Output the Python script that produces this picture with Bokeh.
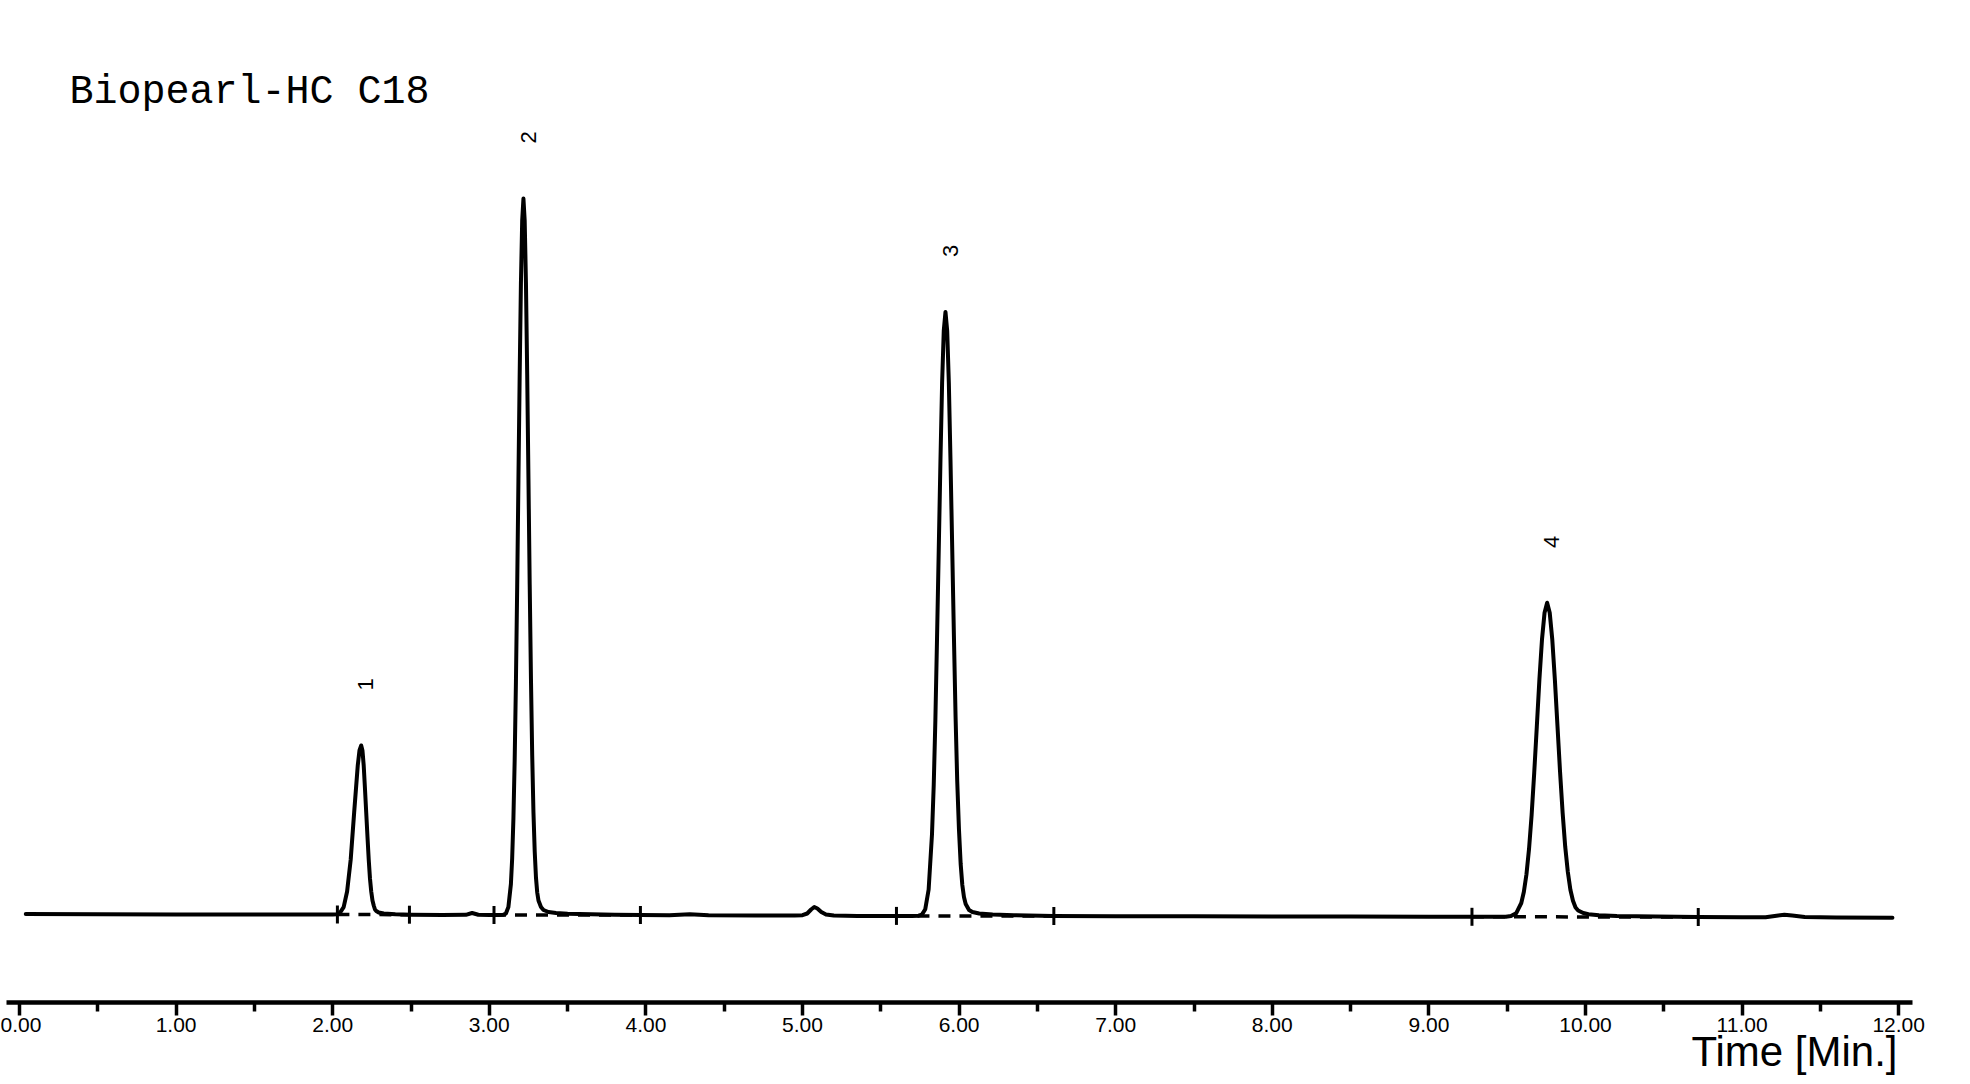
import math
from bokeh.plotting import figure
from bokeh.models import Range1d, FixedTicker, PrintfTickFormatter, Label, ColumnDataSource
from bokeh.embed import file_html
from bokeh.resources import INLINE
from bokeh.core.properties import value

# ---------------- data ----------------
title_text = "Biopearl-HC C18"
axis_title = "Time [Min.]"
tick_values = [0, 1, 2, 3, 4, 5, 6, 7, 8, 9, 10, 11, 12]
minor_tick_values = [0.5, 1.5, 2.5, 3.5, 4.5, 5.5, 6.5, 7.5, 8.5, 9.5, 10.5, 11.5]

# chromatogram trace, time [min] and signal (arbitrary units)
lead_t = [0.04, 0.5, 1.0, 1.5, 1.9, 2.0]
lead_y = [2.5, 2.3, 2.1, 2.0, 2.0, 2.0]

peak1_t = [2.025, 2.047, 2.070, 2.092, 2.115, 2.137, 2.160, 2.171, 2.182, 2.190, 2.198, 2.206,
           2.214, 2.222, 2.230, 2.238, 2.246, 2.254, 2.262, 2.270, 2.278, 2.294, 2.326, 2.40, 2.5]
peak1_y = [2.3, 3.9, 9.4, 25, 57, 104, 151, 166, 171, 166, 151, 128,
           104, 80, 57, 38, 25, 16, 11, 7, 5.5, 4, 3, 2.2, 1.8]

gap1_t = [2.7, 2.85, 2.89, 2.93, 3.0, 3.06]
gap1_y = [1.6, 1.7, 3.5, 1.8, 1.5, 1.5]

peak2_t = [3.090, 3.106, 3.122, 3.138, 3.146, 3.154, 3.162, 3.170, 3.178, 3.186, 3.194, 3.202,
           3.210, 3.218, 3.226, 3.234, 3.242, 3.250, 3.258, 3.266, 3.274, 3.282, 3.290, 3.298,
           3.306, 3.314, 3.330, 3.346, 3.378, 3.426, 3.50, 3.65, 3.80, 3.97]
peak2_y = [1.7, 3.1, 9.5, 32.5, 58, 98, 156, 234, 329, 436, 542, 634,
           696, 718, 696, 634, 542, 438, 332, 238, 161, 104, 65, 39,
           24, 16, 9.5, 6.5, 4.5, 3.5, 2.8, 2.2, 1.8, 1.5]

gap2_t = [4.15, 4.28, 4.40, 4.70, 4.95, 5.00, 5.03, 5.055, 5.075, 5.095, 5.12, 5.15, 5.20, 5.35,
          5.55, 5.70]
gap2_y = [1.3, 2.2, 1.2, 1.0, 1.0, 1.3, 3.0, 7.0, 9.5, 8.0, 4.5, 2.0, 0.9, 0.6,
          0.6, 0.6]

peak3_t = [5.741, 5.7625, 5.784, 5.8055, 5.827, 5.838, 5.8485, 5.859, 5.870, 5.881, 5.8915, 5.902,
           5.913, 5.924, 5.9345, 5.945, 5.956, 5.967, 5.9775, 5.988, 5.999, 6.010, 6.0205, 6.031,
           6.042, 6.0635, 6.085, 6.128, 6.214, 6.35, 6.60]
peak3_y = [0.8, 1.9, 7.3, 27, 82.5, 131.5, 196.5, 277.5, 366.5, 456.5, 533.5, 585.5,
           604.5, 585.5, 533.5, 456.5, 368.5, 279.5, 199.5, 135.5, 87.5, 52.5, 31.5, 19.5,
           12.5, 6.5, 4.5, 3.0, 2.0, 1.2, 0.5]

gap3_t = [7.0, 7.5, 8.0, 8.5, 9.0, 9.3]
gap3_y = [0.3, 0.2, 0.0, 0.0, -0.2, -0.3]

peak4_t = [9.491, 9.524, 9.557, 9.590, 9.6065, 9.623, 9.6395, 9.656, 9.6725, 9.689, 9.7055, 9.722,
           9.7385, 9.755, 9.7715, 9.788, 9.8045, 9.821, 9.8375, 9.854, 9.8705, 9.887, 9.9035,
           9.920, 9.9365, 9.953, 9.986, 10.019, 10.085, 10.2, 10.45, 10.72]
peak4_y = [-0.2, 0.4, 3.2, 13.5, 24.7, 42.2, 67.7, 101.7, 143.7, 189.7, 236.7, 276.7,
           303.7, 313.7, 303.7, 276.7, 236.7, 190.7, 144.7, 103.7, 69.7, 44.7, 26.7,
           15.7, 9.0, 6.0, 3.5, 2.3, 1.2, 0.4, 0.0, -0.5]

tail_t = [11.0, 11.15, 11.22, 11.27, 11.32, 11.40, 11.6, 11.96]
tail_y = [-0.7, -0.7, 0.8, 1.8, 1.0, -0.5, -1.0, -1.2]

# integration baselines (dashed) for the four peaks
base_start_t = [2.03, 3.03, 5.60, 9.275]
base_end_t = [2.49, 3.965, 6.605, 10.72]
base_start_y = [2.0, 1.5, 0.6, -0.3]
base_end_y = [1.8, 1.5, 0.5, -0.5]

# peak numbers and apexes
peak_labels = ["1", "2", "3", "4"]
peak_apex_t = [2.182, 3.218, 5.913, 9.755]
peak_apex_y = [171, 718, 604.5, 313.7]

# ---------------- figure ----------------
PX_PER_MIN = 156.6
X0_PX = 19.0          # canvas x of t = 0
W, H = 1954, 1076
BASE_PX = 916.0       # canvas y of signal 0
AXIS_PX = 1002.0      # canvas y of time axis

p = figure(width=W, height=H, output_backend="svg", toolbar_location=None, title=None,
           x_range=Range1d(-X0_PX / PX_PER_MIN, (W - X0_PX) / PX_PER_MIN),
           y_range=Range1d(-(H - BASE_PX), BASE_PX),
           y_axis_location=None, min_border=0,
           min_border_left=0, min_border_right=0, min_border_top=0, min_border_bottom=0)
p.outline_line_color = None
p.grid.visible = False
p.background_fill_color = "white"
p.border_fill_color = "white"

ax = p.xaxis[0]
ax.fixed_location = -(AXIS_PX - BASE_PX)
ax.ticker = FixedTicker(ticks=tick_values, minor_ticks=minor_tick_values)
ax.formatter = PrintfTickFormatter(format="%.2f")
ax.bounds = (-0.083, 12.09)
ax.axis_line_width = 4.5
ax.axis_line_color = "black"
ax.major_tick_line_width = 3.5
ax.minor_tick_line_width = 3.5
ax.major_tick_line_color = "black"
ax.minor_tick_line_color = "black"
ax.major_tick_out = 13
ax.major_tick_in = 0
ax.minor_tick_out = 9
ax.minor_tick_in = 0
ax.major_label_text_font = "Liberation Sans"
ax.major_label_text_font_size = "21px"
ax.major_label_text_color = "black"
ax.major_label_standoff = 2

trace_t = lead_t + peak1_t + gap1_t + peak2_t + gap2_t + peak3_t + gap3_t + peak4_t + tail_t
trace_y = lead_y + peak1_y + gap1_y + peak2_y + gap2_y + peak3_y + gap3_y + peak4_y + tail_y

# dashed integration baselines
p.segment(x0=base_start_t, y0=base_start_y, x1=base_end_t, y1=base_end_y,
          line_color="black", line_width=3.5, line_dash="12 9")

# trace
p.line(trace_t, trace_y, line_color="black", line_width=4, line_join="round", line_cap="round")

# integration markers
mark_t = base_start_t + base_end_t
mark_y = base_start_y + base_end_y
p.segment(x0=mark_t, y0=[v - 9 for v in mark_y], x1=mark_t, y1=[v + 9 for v in mark_y],
          line_color="black", line_width=3)

# peak numbers (rotated)
lab_src = ColumnDataSource(dict(x=[t + 0.03 for t in peak_apex_t],
                                y=[v + 61 for v in peak_apex_y],
                                text=peak_labels))
p.text(x="x", y="y", text="text", source=lab_src, angle=math.pi / 2,
       text_font=value("Liberation Sans"), text_font_size="22px",
       text_align="center", text_baseline="middle", text_color="black")

# title
p.add_layout(Label(x=(69 - X0_PX) / PX_PER_MIN, y=BASE_PX - 92, text=title_text,
                   text_font="Liberation Mono", text_font_size="40px", text_color="black",
                   text_align="left", text_baseline="alphabetic"))

# axis title
p.add_layout(Label(x=(1897 - X0_PX) / PX_PER_MIN, y=BASE_PX - 1051, text=axis_title,
                   text_font="Liberation Sans", text_font_size="42px", text_color="black",
                   text_align="right", text_baseline="middle"))

open("out.html", "w").write(file_html(p, INLINE))
